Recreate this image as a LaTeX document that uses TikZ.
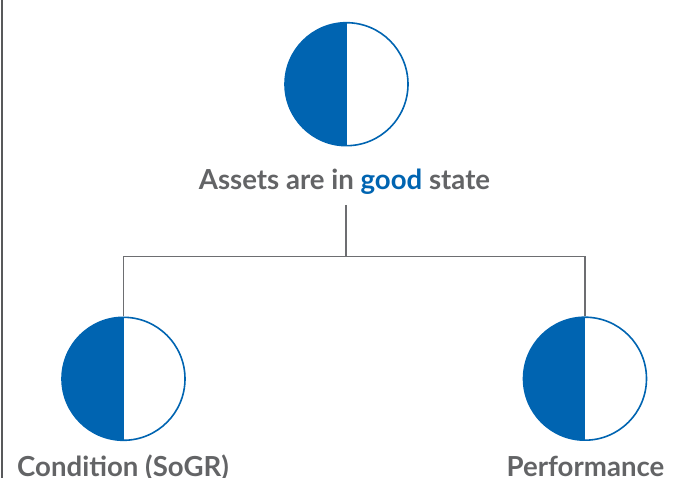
\documentclass[tikz,border=0pt]{standalone}
\usepackage{fontspec}
\setmainfont{Lato}[UprightFont=* Bold]
\definecolor{brandblue}{HTML}{0064B1}
\definecolor{textgray}{HTML}{636466}
\definecolor{linegray}{HTML}{6D6E71}
\definecolor{framegray}{HTML}{58595B}
\tikzset{
  halfdisc/.style={circle, minimum size=123pt, inner sep=0pt, draw=brandblue, line width=1.6pt,
    path picture={\fill[brandblue] (path picture bounding box.south west) rectangle (path picture bounding box.north);}},
  label text/.style={text=textgray, anchor=base, inner sep=0pt, font=\fontsize{27.6}{32}\selectfont},
  link/.style={draw=linegray, line width=1.1pt},
}
\begin{document}
\begin{tikzpicture}[x=1pt,y=-1pt]
  \useasboundingbox (0,0) rectangle (673,478);
  % left frame rule
  \draw[framegray, line width=2pt] (1.8,0) -- (1.8,478);
  % state indicators
  \node[halfdisc] (top) at (346.5,84.2) {};
  \node[halfdisc] (left) at (123.5,378.8) {};
  \node[halfdisc] (right) at (585,378.7) {};
  % labels
  \node[label text] (title) at (344.5,190) {Assets are in \textcolor{brandblue}{good} state};
  \node[label text] (condlabel) at (123,476.5) {Condition (SoGR)};
  \node[label text] (perflabel) at (585.5,476.5) {Performance};
  % tree connector
  \coordinate (stem) at (346,205);
  \coordinate (fork) at (346,256.5);
  \draw[link] (stem) -- (fork) -| (left.north);
  \draw[link] (fork) -| (right.north);
\end{tikzpicture}
\end{document}
